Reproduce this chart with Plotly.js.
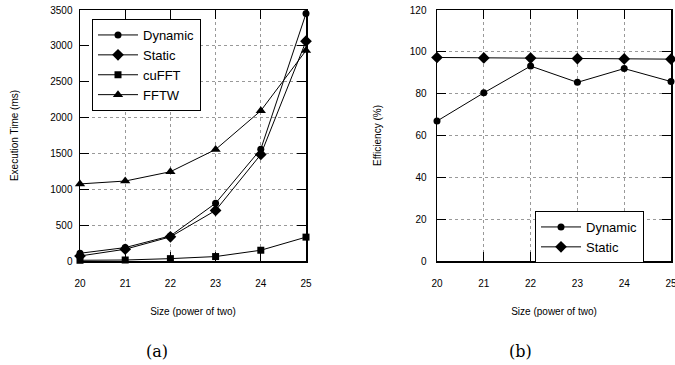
<!DOCTYPE html>
<html><head><meta charset="utf-8">
<script src="https://cdn.plot.ly/plotly-3.0.1.min.js"></script>
<style>html,body{margin:0;padding:0;background:#fff}#c{width:675px;height:365px}</style>
</head><body><div id="c"></div>
<script>
const sizes = [20, 21, 22, 23, 24, 25];
const timeDynamic = [108, 187, 350, 805, 1560, 3450];
const timeStatic = [70, 164, 337, 705, 1485, 3065];
const timeCuFFT = [10, 14, 33, 62, 150, 333];
const timeFFTW = [1075, 1115, 1245, 1555, 2095, 2935];
const effDynamic = [66.9, 80.4, 93.2, 85.4, 92.0, 85.8];
const effStatic = [97.3, 97.1, 97.0, 96.8, 96.6, 96.5];

const FONT = '"Liberation Sans", Arial, sans-serif';
function tr(x, y, name, sym, sz, xa, ya, leg) {
  return {x: x, y: y, name: name, type: 'scatter', mode: 'lines+markers',
    xaxis: xa, yaxis: ya, legend: leg, cliponaxis: false,
    line: {color: '#000', width: 1},
    marker: {symbol: sym, size: sz, color: '#000'}};
}
const data = [
  tr(sizes, timeDynamic, 'Dynamic', 'circle', 7, 'x', 'y', 'legend'),
  tr(sizes, timeStatic, 'Static', 'diamond', 9, 'x', 'y', 'legend'),
  tr(sizes, timeCuFFT, 'cuFFT', 'square', 7, 'x', 'y', 'legend'),
  tr(sizes, timeFFTW, 'FFTW', 'triangle-up', 9, 'x', 'y', 'legend'),
  tr(sizes, effDynamic, 'Dynamic', 'circle', 7, 'x2', 'y2', 'legend2'),
  tr(sizes, effStatic, 'Static', 'diamond', 9, 'x2', 'y2', 'legend2')
];
const axBase = {showline: true, linecolor: '#000', linewidth: 1.5, mirror: 'ticks',
  ticks: 'inside', ticklen: 9, tickwidth: 1.2, tickcolor: '#000',
  showgrid: true, gridcolor: '#999', griddash: 'dot', gridwidth: 1,
  zeroline: false, ticklabeloverflow: 'allow',
  tickfont: {family: FONT, size: 10, color: '#000'}};
const ydom = [104/365, 355/365];
const layout = {
  width: 675, height: 365, margin: {l: 0, r: 0, t: 0, b: 0},
  paper_bgcolor: '#fff', plot_bgcolor: '#fff',
  font: {family: FONT, color: '#000'},
  xaxis: Object.assign({}, axBase, {domain: [80/675, 306/675], range: [20, 25], dtick: 1, tick0: 20, anchor: 'y',
    ticklabelstandoff: 12,
    title: {text: 'Size (power of two)', font: {family: FONT, size: 10}, standoff: 20}}),
  yaxis: Object.assign({}, axBase, {domain: ydom, range: [0, 3500], dtick: 500, anchor: 'x',
    ticklabelstandoff: 4,
    title: {text: 'Execution Time (ms)', font: {family: FONT, size: 10}, standoff: 30}}),
  xaxis2: Object.assign({}, axBase, {domain: [437/675, 671/675], range: [20, 25], dtick: 1, tick0: 20, anchor: 'y2',
    ticklabelstandoff: 12,
    title: {text: 'Size (power of two)', font: {family: FONT, size: 10}, standoff: 20}}),
  yaxis2: Object.assign({}, axBase, {domain: ydom, range: [0, 120], dtick: 20, anchor: 'x2',
    ticklabelstandoff: 7,
    title: {text: 'Efficiency (%)', font: {family: FONT, size: 10}, standoff: 26}}),
  legend: {x: 92/675, y: (365-19)/365, xanchor: 'left', yanchor: 'top',
    bgcolor: '#fff', bordercolor: '#000', borderwidth: 1,
    font: {family: FONT, size: 13}, itemwidth: 40, tracegroupgap: 0},
  legend2: {x: 535/675, y: (365-211)/365, xanchor: 'left', yanchor: 'top',
    bgcolor: '#fff', bordercolor: '#000', borderwidth: 1,
    font: {family: FONT, size: 13}, itemwidth: 40, tracegroupgap: 0},
  showlegend: true,
  annotations: [
    {text: '(a)', x: 157/675, y: (365-351)/365, xref: 'paper', yref: 'paper', showarrow: false,
     xanchor: 'center', yanchor: 'middle',
     font: {family: '"DejaVu Serif", "Liberation Serif", serif', size: 16}},
    {text: '(b)', x: 520/675, y: (365-351)/365, xref: 'paper', yref: 'paper', showarrow: false,
     xanchor: 'center', yanchor: 'middle',
     font: {family: '"DejaVu Serif", "Liberation Serif", serif', size: 16}}
  ]
};
Plotly.newPlot('c', data, layout, {staticPlot: true, displayModeBar: false});
</script></body></html>
